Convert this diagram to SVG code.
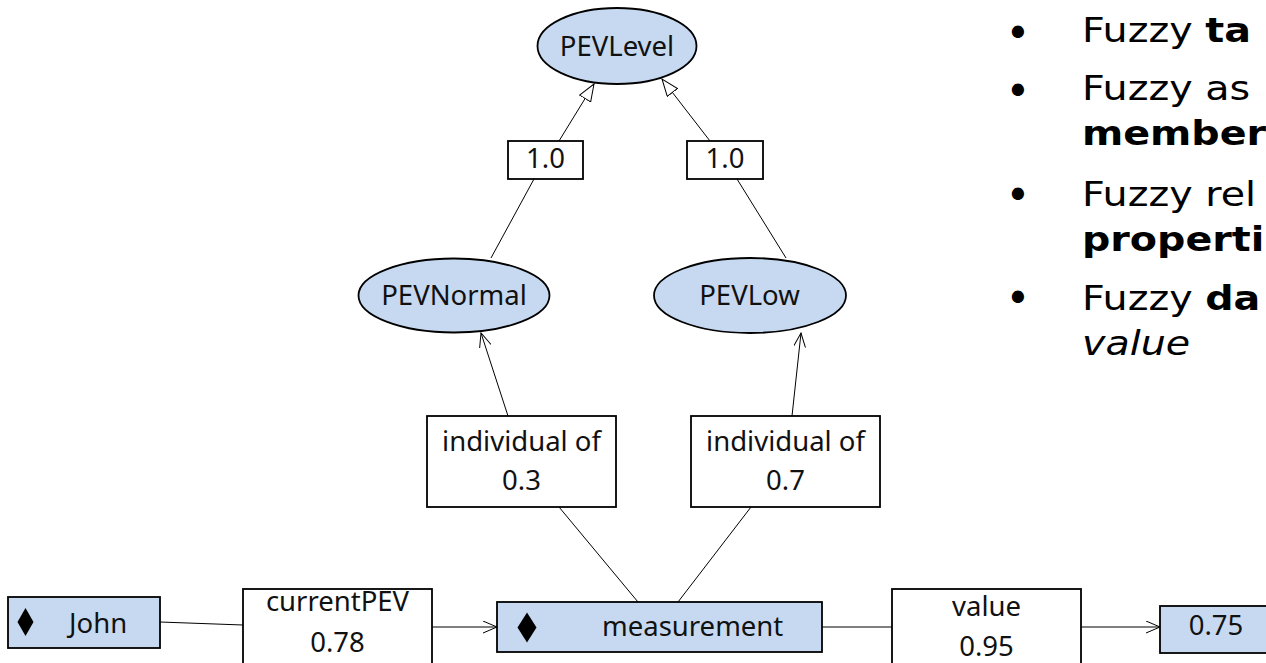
<svg xmlns="http://www.w3.org/2000/svg" width="1266" height="663" viewBox="0 0 1266 663">
<style>
.cls{fill:#C6D9F1;stroke:#000;stroke-width:1.8}
.box{fill:#fff;stroke:#000;stroke-width:1.8}
.t{font-family:"Noto Sans","Open Sans",sans-serif;font-size:27.5px;fill:#111}
.c{text-anchor:middle}
.ln{stroke:#000;stroke-width:1;fill:none}
.bt{font-family:"DejaVu Sans",Verdana,sans-serif;font-size:33px;fill:#000}
.bul{font-family:"DejaVu Sans",Verdana,sans-serif;font-size:42px;fill:#000;text-anchor:middle}
</style>
<defs>
<marker id="open" markerUnits="userSpaceOnUse" markerWidth="15" markerHeight="13" refX="14" refY="6" orient="auto">
<path d="M0,0 L14,6 L0,12" fill="none" stroke="#000" stroke-width="1"/>
</marker>
<marker id="tri" markerUnits="userSpaceOnUse" markerWidth="19" markerHeight="15" refX="17.5" refY="7" orient="auto">
<path d="M0.5,0.5 L17.5,7 L0.5,13.5 Z" fill="#fff" stroke="#000" stroke-width="1"/>
</marker>
</defs>
<rect width="1266" height="663" fill="#fff"/>
<g id="connectors">
<line class="ln" x1="160" y1="622" x2="243" y2="625"/>
<line class="ln" x1="432" y1="627" x2="497" y2="627" marker-end="url(#open)"/>
<line class="ln" x1="822" y1="627" x2="892" y2="627"/>
<line class="ln" x1="1081" y1="627" x2="1160" y2="627" marker-end="url(#open)"/>
<line class="ln" x1="638" y1="602" x2="559" y2="507"/>
<line class="ln" x1="508" y1="416" x2="481" y2="333" marker-end="url(#open)"/>
<line class="ln" x1="678" y1="602" x2="751" y2="507"/>
<line class="ln" x1="792" y1="416" x2="801" y2="333" marker-end="url(#open)"/>
<line class="ln" x1="491" y1="258" x2="534" y2="179"/>
<line class="ln" x1="559" y1="141" x2="594" y2="84" marker-end="url(#tri)"/>
<line class="ln" x1="786" y1="258" x2="737" y2="179"/>
<line class="ln" x1="710" y1="141" x2="662" y2="79" marker-end="url(#tri)"/>
</g>
<g id="PEVLevel">
<ellipse class="cls" cx="617" cy="46" rx="79.5" ry="38"/>
<text class="t c" x="617" y="56">PEVLevel</text>
</g>
<g id="w1">
<rect class="box" x="508" y="141" width="75" height="38"/>
<text class="t c" x="545.5" y="168">1.0</text>
</g>
<g id="w2">
<rect class="box" x="687" y="141" width="76" height="38"/>
<text class="t c" x="725" y="168">1.0</text>
</g>
<g id="PEVNormal">
<ellipse class="cls" cx="454" cy="295.5" rx="95.5" ry="37"/>
<text class="t c" x="454" y="305">PEVNormal</text>
</g>
<g id="PEVLow">
<ellipse class="cls" cx="750" cy="295.5" rx="96" ry="37.5"/>
<text class="t c" x="749.5" y="305">PEVLow</text>
</g>
<g id="ind1">
<rect class="box" x="427" y="416" width="189" height="91"/>
<text class="t c" x="521.5" y="451">individual of</text>
<text class="t c" x="521.5" y="490">0.3</text>
</g>
<g id="ind2">
<rect class="box" x="691" y="416" width="189" height="91"/>
<text class="t c" x="785.5" y="451">individual of</text>
<text class="t c" x="785.5" y="490">0.7</text>
</g>
<g id="John">
<rect class="cls" x="8" y="597" width="152" height="51"/>
<path d="M25.5,608 L33.5,622 L25.5,636 L17.5,622 Z" fill="#000"/>
<text class="t" x="69" y="633">John</text>
</g>
<g id="currentPEV">
<rect class="box" x="243" y="589" width="189" height="90"/>
<text class="t c" x="337.5" y="611">currentPEV</text>
<text class="t c" x="337.5" y="652">0.78</text>
</g>
<g id="measurement">
<rect class="cls" x="497" y="602" width="325" height="50"/>
<path d="M527,612.5 L536.5,627.5 L527,642.5 L517.5,627.5 Z" fill="#000"/>
<text class="t" x="602" y="636">measurement</text>
</g>
<g id="value">
<rect class="box" x="892" y="589" width="189" height="90"/>
<text class="t c" x="986.5" y="616">value</text>
<text class="t c" x="986.5" y="656">0.95</text>
</g>
<g id="v075">
<rect class="cls" x="1160" y="606" width="107" height="47"/>
<text class="t c" x="1216" y="635">0.75</text>
</g>
<g id="bullets">
<text class="bul" x="1018" y="48">•</text>
<text class="bul" x="1018" y="106">•</text>
<text class="bul" x="1018" y="210">•</text>
<text class="bul" x="1018" y="313">•</text>
<g class="bt" transform="translate(1082,0) scale(1.2,1) translate(-1082,0)">
<text x="1082" y="42">Fuzzy <tspan font-weight="bold">ta</tspan></text>
<text x="1082" y="100">Fuzzy as</text>
<text x="1082" y="145" font-weight="bold">member</text>
<text x="1082" y="206">Fuzzy rel</text>
<text x="1082" y="251" font-weight="bold">properti</text>
<text x="1082" y="310">Fuzzy <tspan font-weight="bold">da</tspan></text>
<text x="1082" y="355" font-style="italic">value</text>
</g>
</g>
</svg>
